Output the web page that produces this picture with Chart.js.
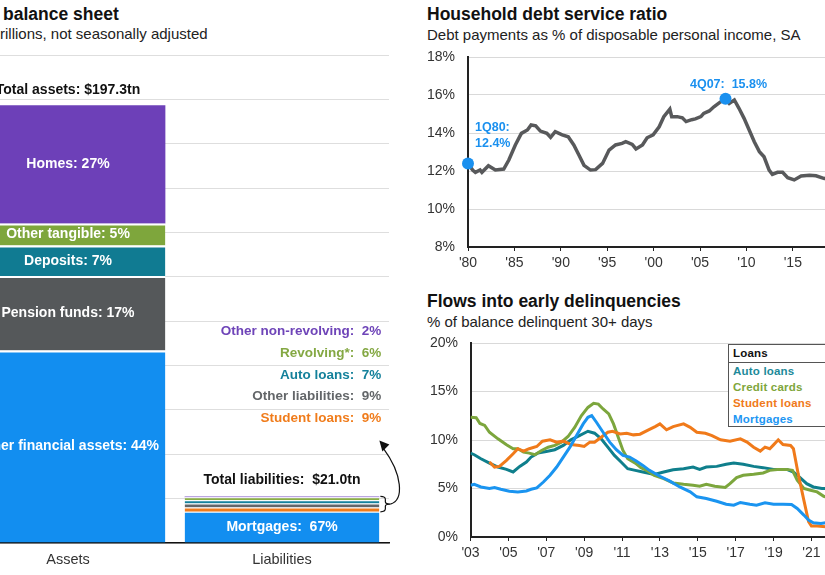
<!DOCTYPE html>
<html>
<head>
<meta charset="utf-8">
<script src="https://cdn.jsdelivr.net/npm/chart.js@4.4.0/dist/chart.umd.min.js"></script>
<style>
  html, body { margin: 0; padding: 0; }
  body { width: 825px; height: 575px; overflow: hidden; position: relative; background: #fff;
         font-family: "Liberation Sans", Arial, sans-serif; }
  canvas, .txt { position: absolute; }
  .title { font-weight: bold; font-size: 17.5px; line-height: 20px; color: #111; white-space: nowrap; }
  .sub { font-size: 15px; line-height: 18px; color: #222; white-space: nowrap; }
  #loanLegend { position: absolute; left: 728px; top: 344px; width: 130px; height: 81px;
                border: 1.5px solid #555; background: #fff; font-weight: bold; font-size: 11.5px; }
  #loanLegend div { padding-left: 4px; line-height: 16px; white-space: nowrap; letter-spacing: 0.2px; }
  #loanLegend .head { color: #111; border-bottom: 1px solid #555; line-height: 16.5px; }
</style>
</head>
<body>

<div class="txt title" style="left:3px;top:4px">balance sheet</div>
<div class="txt sub" style="left:0px;top:25px">rillions, not seasonally adjusted</div>

<div class="txt title" style="left:427px;top:4px">Household debt service ratio</div>
<div class="txt sub" style="left:427px;top:26px">Debt payments as % of disposable personal income, SA</div>

<div class="txt title" style="left:427px;top:291px">Flows into early delinquencies</div>
<div class="txt sub" style="left:427px;top:313px">% of balance delinquent 30+ days</div>

<canvas id="sheetChart" width="448" height="575" style="left:-39px;top:0"></canvas>
<canvas id="dsrChart" width="491" height="235" style="left:410px;top:45px"></canvas>
<canvas id="delChart" width="455" height="240" style="left:410px;top:330px"></canvas>
<div id="loanLegend"></div>

<script>
Chart.defaults.font.family = '"Liberation Sans", Arial, sans-serif';
Chart.defaults.font.size = 14;
Chart.defaults.color = "#333";

// Balance sheet ($ trillions, shares in %)
const sheetCategories = ["Assets", "Liabilities"];
const totalAssets = 197.3;
const totalLiabilities = 21.0;
const assetNames = ["Other financial assets", "Pension funds", "Deposits", "Other tangible", "Homes"];
const assetShares = [44, 17, 7, 5, 27];
const liabilityNames = ["Mortgages", "Student loans", "Other liabilities", "Auto loans", "Revolving*", "Other non-revolving"];
const liabilityShares = [67, 9, 9, 7, 6, 2];

// Household debt service ratio, % of disposable income
const dsrYears = [1980.0, 1980.5, 1980.8, 1981.3, 1981.5, 1982.2, 1982.95, 1983.85, 1984.4, 1985.1,
  1985.75, 1986.4, 1986.8, 1987.3, 1987.8, 1988.5, 1988.9, 1989.4, 1990.15, 1990.8,
  1991.4, 1991.95, 1992.5, 1993.2, 1993.75, 1994.5, 1995.2, 1995.9, 1996.6, 1997.0,
  1997.7, 1998.1, 1998.8, 1999.3, 1999.95, 2000.6, 2001.1, 2001.75, 2001.95, 2002.55,
  2003.1, 2003.5, 2004.1, 2004.5, 2005.1, 2005.4, 2006.0, 2006.5, 2007.1, 2007.75,
  2008.15, 2008.7, 2009.2, 2009.75, 2010.3, 2010.85, 2011.4, 2011.9, 2012.45, 2012.8,
  2013.35, 2013.9, 2014.45, 2015.15, 2015.9, 2016.8, 2017.5, 2018.4, 2019.0];
const dsrValues = [12.40, 12.05, 11.93, 12.05, 11.93, 12.28, 12.05, 12.10, 12.58, 13.37,
  13.98, 14.16, 14.42, 14.38, 14.10, 13.98, 13.77, 14.07, 13.90, 13.80,
  13.37, 12.84, 12.30, 12.05, 12.07, 12.40, 13.10, 13.37, 13.45, 13.54,
  13.40, 13.16, 13.37, 13.75, 13.90, 14.33, 14.86, 15.26, 14.86, 14.86,
  14.80, 14.60, 14.70, 14.74, 14.86, 15.03, 15.16, 15.38, 15.60, 15.80,
  15.56, 15.74, 15.30, 14.77, 14.16, 13.54, 13.02, 12.75, 12.05, 11.82,
  11.93, 11.93, 11.65, 11.53, 11.74, 11.77, 11.75, 11.60, 11.62];
const dsrTickYears = [1980, 1985, 1990, 1995, 2000, 2005, 2010, 2015, 2020, 2025];
const markerYears = [1980.0, 2007.75];
const markerValues = [12.4, 15.8];
const markerLabels = [["1Q80:", "12.4%"], ["4Q07:  15.8%"]];

// Flows into early delinquency, % of balance 30+ days
const autoYears = [2003.0, 2003.2, 2003.55, 2004.0, 2004.45, 2004.9, 2005.25, 2005.6, 2005.95, 2006.2,
  2006.55, 2007.0, 2007.45, 2007.9, 2008.3, 2008.75, 2009.2, 2009.55, 2009.9, 2010.25,
  2010.6, 2010.95, 2011.3, 2011.7, 2012.1, 2012.7, 2013.2, 2013.7, 2014.25, 2014.75,
  2015.1, 2015.45, 2016.0, 2016.5, 2016.9, 2017.4, 2017.95, 2018.45, 2019.0, 2019.7,
  2020.05, 2020.4, 2020.75, 2021.1, 2021.55, 2022.0];
const autoRates = [8.65, 8.48, 8.07, 7.62, 7.21, 6.97, 6.70, 7.28, 7.73, 8.24,
  8.65, 8.82, 9.00, 9.44, 10.02, 10.46, 10.90, 10.70, 10.12, 9.26,
  8.41, 7.73, 7.04, 6.87, 6.70, 6.46, 6.70, 6.94, 7.04, 7.21,
  6.97, 7.21, 7.28, 7.49, 7.62, 7.49, 7.28, 7.15, 6.97, 6.97,
  6.70, 6.12, 5.50, 5.16, 5.00, 5.00];
const cardYears = [2003.0, 2003.3, 2003.5, 2003.75, 2004.0, 2004.45, 2004.9, 2005.25, 2005.5, 2005.8,
  2006.1, 2006.4, 2006.75, 2007.1, 2007.45, 2007.8, 2008.15, 2008.5, 2008.85, 2009.2,
  2009.5, 2009.75, 2010.0, 2010.3, 2010.55, 2010.8, 2011.05, 2011.3, 2011.7, 2012.0,
  2012.3, 2012.7, 2013.2, 2013.7, 2014.25, 2014.75, 2015.1, 2015.45, 2015.9, 2016.45,
  2016.7, 2017.05, 2017.4, 2017.95, 2018.45, 2018.8, 2019.2, 2019.7, 2020.0, 2020.25,
  2020.6, 2020.95, 2021.3, 2021.65, 2022.0];
const cardRates = [12.34, 12.30, 11.70, 11.50, 10.80, 10.12, 9.50, 9.10, 9.10, 8.75,
  8.65, 8.48, 8.92, 9.26, 9.44, 9.78, 10.36, 11.30, 12.50, 13.36,
  13.78, 13.70, 13.20, 12.70, 11.66, 10.29, 8.92, 8.07, 7.62, 7.15,
  6.87, 6.36, 6.02, 5.57, 5.43, 5.33, 5.23, 5.43, 5.23, 5.10,
  5.50, 6.12, 6.36, 6.46, 6.60, 6.87, 6.97, 6.97, 6.87, 5.85,
  5.00, 4.82, 4.65, 4.20, 4.00];
const studentYears = [2004.0, 2004.27, 2004.53, 2004.9, 2005.25, 2005.5, 2005.8, 2006.1, 2006.5, 2006.8,
  2007.2, 2007.55, 2007.9, 2008.3, 2008.75, 2009.0, 2009.3, 2009.55, 2009.9, 2010.25,
  2010.5, 2010.9, 2011.25, 2011.6, 2011.95, 2012.4, 2012.75, 2013.0, 2013.35, 2013.7,
  2014.25, 2014.6, 2014.95, 2015.4, 2015.75, 2016.2, 2016.7, 2017.25, 2017.6, 2017.95,
  2018.3, 2018.55, 2018.8, 2019.0, 2019.25, 2019.5, 2019.9, 2020.05, 2020.3, 2020.6,
  2020.85, 2021.0, 2021.3, 2021.75, 2022.0];
const studentRates = [7.73, 7.21, 7.28, 7.90, 8.58, 9.10, 8.85, 9.10, 9.33, 9.88,
  10.02, 9.78, 9.88, 9.54, 9.44, 9.33, 9.78, 9.78, 10.29, 10.80,
  10.90, 10.63, 10.70, 10.53, 10.60, 11.05, 11.38, 11.66, 11.05, 11.38,
  11.66, 11.31, 10.80, 10.70, 10.46, 10.02, 9.88, 10.12, 9.78, 9.26,
  8.85, 9.26, 9.10, 9.50, 10.02, 9.54, 9.44, 9.10, 6.53, 3.80,
  1.57, 1.13, 1.13, 1.06, 1.10];
const mortgageYears = [2003.0, 2003.2, 2003.55, 2004.0, 2004.27, 2004.6, 2005.05, 2005.5, 2005.95, 2006.2,
  2006.5, 2006.85, 2007.2, 2007.55, 2007.9, 2008.25, 2008.6, 2008.95, 2009.2, 2009.4,
  2009.65, 2010.0, 2010.35, 2010.7, 2011.05, 2011.4, 2011.75, 2012.1, 2012.45, 2013.0,
  2013.5, 2014.05, 2014.6, 2014.95, 2015.45, 2016.0, 2016.5, 2016.9, 2017.25, 2017.75,
  2018.1, 2018.55, 2019.0, 2019.5, 2019.95, 2020.25, 2020.6, 2020.85, 2021.1, 2021.5,
  2021.75, 2022.0];
const mortgageRates = [5.33, 5.43, 5.16, 5.00, 5.10, 4.92, 4.72, 4.65, 4.75, 4.92,
  5.06, 5.67, 6.36, 7.21, 8.24, 9.26, 10.46, 11.66, 12.34, 12.51,
  11.83, 10.80, 9.78, 9.00, 8.41, 8.24, 7.83, 7.38, 6.87, 6.26,
  5.78, 5.16, 4.65, 4.14, 3.97, 3.69, 3.38, 3.28, 3.56, 3.38,
  3.28, 3.52, 3.38, 3.38, 3.35, 2.94, 2.26, 1.74, 1.47, 1.40,
  1.47, 1.50];
const delTickYears = [2003, 2005, 2007, 2009, 2011, 2013, 2015, 2017, 2019, 2021, 2023];
const loanNames = ["Auto loans", "Credit cards", "Student loans", "Mortgages"];

// Colours
const assetColors = ["#128ef0", "#55585a", "#107b92", "#7ea63c", "#6d40b8"];
const liabilityColors = ["#128ef0", "#f07c1b", "#636669", "#14819b", "#8aae45", "#7b4fc4"];
const liabilityTextColors = ["#128ef0", "#f07c1b", "#636669", "#14819b", "#84a843", "#6e44b8"];
const loanColors = ["#0f7f8c", "#7ca63d", "#f07a1a", "#1a94f0"];
const loanTextColors = ["#1d8a9a", "#7ea63c", "#f07a1a", "#2196f3"];
const noteBlue = "#1a90ef";
const boldFont = size => 'bold ' + size + 'px "Liberation Sans", Arial, sans-serif';

// ---------- Balance sheet ----------
let sheetDatasets = [];
assetNames.forEach((name, i) => {
    sheetDatasets.push({
        data: [totalAssets * assetShares[i] / 100, null],
        backgroundColor: assetColors[i],
        borderColor: "#fff",
        borderWidth: {top: i === assetNames.length - 1 ? 0 : 2, left: 0, right: 0, bottom: 0},
        text: name + ": " + assetShares[i] + "%",
        column: 0
    });
});
liabilityNames.forEach((name, i) => {
    sheetDatasets.push({
        data: [null, totalLiabilities * liabilityShares[i] / 100],
        backgroundColor: liabilityColors[i],
        borderColor: "#fff",
        borderWidth: {top: i === liabilityNames.length - 1 ? 0 : 1, left: 0, right: 0, bottom: 0},
        text: name + ":  " + liabilityShares[i] + "%",
        column: 1
    });
});

const sheetLabels = {
    id: "sheetLabels",
    afterDatasetsDraw(chart) {
        const ctx = chart.ctx;
        const bars = chart.data.datasets.map((ds, i) => chart.getDatasetMeta(i).data[ds.column]);
        const assetTop = bars[assetNames.length - 1];
        const liabTop = bars[bars.length - 1];
        const mortgage = bars[assetNames.length];
        ctx.save();
        ctx.textBaseline = "middle";

        // labels inside the bars
        ctx.font = boldFont(14);
        ctx.textAlign = "center";
        ctx.fillStyle = "#fff";
        chart.data.datasets.forEach((ds, i) => {
            if (ds.column === 1 && i !== assetNames.length) return;
            const b = bars[i];
            ctx.fillText(ds.text, b.x, (b.y + b.base) / 2);
        });

        // totals above the bars
        ctx.fillStyle = "#111";
        ctx.fillText("Total assets: $" + totalAssets.toFixed(1) + "tn", assetTop.x, assetTop.y - 15);
        ctx.fillText("Total liabilities:  $" + totalLiabilities.toFixed(1) + "tn", liabTop.x, liabTop.y - 16);

        // small liabilities listed to the right
        ctx.font = boldFont(13.5);
        ctx.textAlign = "right";
        const rightX = mortgage.x + mortgage.width / 2 + 2;
        for (let k = 1; k < liabilityNames.length; k++) {
            ctx.fillStyle = liabilityTextColors[k];
            ctx.fillText(chart.data.datasets[assetNames.length + k].text, rightX, liabTop.y - 78 - (k - 1) * 21.75);
        }

        // brace and arrow
        const bx = mortgage.x + mortgage.width / 2 + 1;
        const top = liabTop.y, bot = mortgage.y, mid = (top + bot) / 2;
        ctx.strokeStyle = "#111";
        ctx.lineWidth = 1.2;
        ctx.beginPath();
        ctx.moveTo(bx, top);
        ctx.quadraticCurveTo(bx + 5, top, bx + 5, top + 3);
        ctx.lineTo(bx + 5, mid - 2);
        ctx.quadraticCurveTo(bx + 5, mid, bx + 10, mid);
        ctx.quadraticCurveTo(bx + 5, mid, bx + 5, mid + 2);
        ctx.lineTo(bx + 5, bot - 3);
        ctx.quadraticCurveTo(bx + 5, bot, bx, bot);
        ctx.stroke();

        const tipX = bx - 1, tipY = liabTop.y - 56;
        ctx.beginPath();
        ctx.moveTo(bx + 10, mid);
        ctx.bezierCurveTo(bx + 24, mid - 4, bx + 22, mid - 30, tipX + 4, tipY + 8);
        ctx.stroke();
        ctx.fillStyle = "#111";
        ctx.beginPath();
        ctx.moveTo(tipX, tipY);
        ctx.lineTo(tipX + 10, tipY + 4);
        ctx.lineTo(tipX + 3, tipY + 11);
        ctx.closePath();
        ctx.fill();
        ctx.restore();
    }
};

new Chart(document.getElementById("sheetChart"), {
    type: "bar",
    data: {labels: sheetCategories, datasets: sheetDatasets},
    options: {
        responsive: false,
        animation: false,
        layout: {padding: {top: 55, right: 20, bottom: 0, left: 0}},
        plugins: {legend: {display: false}, tooltip: {enabled: false}},
        datasets: {bar: {barPercentage: 0.91, categoryPercentage: 1}},
        scales: {
            x: {
                stacked: true,
                grid: {display: false, drawTicks: false},
                border: {color: "#111", width: 1.5},
                ticks: {padding: 8, color: "#333", font: {size: 14.5}},
                afterFit: s => { s.height = 32; }
            },
            y: {
                stacked: true, min: 0, max: 220,
                ticks: {display: false, stepSize: 20},
                grid: {color: "#dedede", drawTicks: false},
                border: {display: false},
                afterFit: s => { s.width = 0; }
            }
        }
    },
    plugins: [sheetLabels]
});

// ---------- Debt service ratio ----------
const dsrNotes = {
    id: "dsrNotes",
    afterDatasetsDraw(chart) {
        const {ctx, scales: {x, y}} = chart;
        ctx.save();
        ctx.font = boldFont(12.5);
        ctx.fillStyle = noteBlue;
        ctx.textBaseline = "middle";
        markerYears.forEach((yr, i) => {
            const px = x.getPixelForValue(yr), py = y.getPixelForValue(markerValues[i]);
            const lines = markerLabels[i];
            if (lines.length > 1) {
                ctx.textAlign = "left";
                ctx.fillText(lines[0], px + 7, py - 36);
                ctx.fillText(lines[1], px + 7, py - 20);
            } else {
                ctx.textAlign = "center";
                ctx.fillText(lines[0], px + 3, py - 14);
            }
        });
        ctx.restore();
    }
};

const yearTick = v => "'" + String(v).slice(2);
// y tick spacing done with an invisible tick mark so it does not push the chart area down
const yGrid = {color: "#d9d9d9", tickLength: 13, tickColor: "rgba(0,0,0,0)"};

new Chart(document.getElementById("dsrChart"), {
    type: "line",
    data: {
        datasets: [
            {
                data: markerYears.map((yr, i) => ({x: yr, y: markerValues[i]})),
                showLine: false, pointRadius: 6, pointBackgroundColor: noteBlue,
                pointBorderWidth: 0, clip: false, order: 0
            },
            {
                data: dsrYears.map((yr, i) => ({x: yr, y: dsrValues[i]})),
                borderColor: "#58595b", borderWidth: 3.5, pointRadius: 0, tension: 0, order: 1
            }
        ]
    },
    options: {
        responsive: false,
        animation: false,
        layout: {padding: {top: 12, right: 15.4, bottom: 0, left: 0}},
        plugins: {legend: {display: false}, tooltip: {enabled: false}},
        scales: {
            x: {
                type: "linear", min: 1980, max: 2025,
                afterBuildTicks: s => { s.ticks = dsrTickYears.map(v => ({value: v})); },
                ticks: {callback: yearTick, padding: 4, maxRotation: 0, autoSkip: false},
                grid: {drawOnChartArea: false, tickLength: 4, color: "#222"},
                border: {color: "#222", width: 2},
                afterFit: s => { s.height = 33; }
            },
            y: {
                min: 8, max: 18,
                ticks: {stepSize: 2, callback: v => v + "%", padding: 0},
                grid: yGrid,
                border: {color: "#222", width: 2},
                afterFit: s => { s.width = 58; }
            }
        }
    },
    plugins: [dsrNotes]
});

// ---------- Early delinquencies ----------
const loanYears = [autoYears, cardYears, studentYears, mortgageYears];
const loanRates = [autoRates, cardRates, studentRates, mortgageRates];
const loanOrder = [3, 2, 1, 0];

new Chart(document.getElementById("delChart"), {
    type: "line",
    data: {
        datasets: loanNames.map((name, k) => ({
            label: name,
            data: loanYears[k].map((yr, i) => ({x: yr, y: loanRates[k][i]})),
            borderColor: loanColors[k], borderWidth: 3, pointRadius: 0, tension: 0,
            order: loanOrder[k]
        }))
    },
    options: {
        responsive: false,
        animation: false,
        layout: {padding: {top: 13, right: 15.7, bottom: 0, left: 0}},
        plugins: {legend: {display: false}, tooltip: {enabled: false}},
        scales: {
            x: {
                type: "linear", min: 2003, max: 2023,
                afterBuildTicks: s => { s.ticks = delTickYears.map(v => ({value: v})); },
                ticks: {callback: yearTick, padding: 3.5, maxRotation: 0, autoSkip: false},
                grid: {drawOnChartArea: false, tickLength: 4, color: "#222"},
                border: {color: "#222", width: 2},
                afterFit: s => { s.height = 33; }
            },
            y: {
                min: 0, max: 20,
                ticks: {stepSize: 5, callback: v => v + "%", padding: 0},
                grid: Object.assign({}, yGrid, {tickLength: 12.5}),
                border: {color: "#222", width: 2},
                afterFit: s => { s.width = 60.5; }
            }
        }
    }
});

// Legend box
document.getElementById("loanLegend").innerHTML = '<div class="head">Loans</div>' +
    loanNames.map((name, k) => `<div style="color:${loanTextColors[k]}">${name}</div>`).join('');
</script>
</body>
</html>
